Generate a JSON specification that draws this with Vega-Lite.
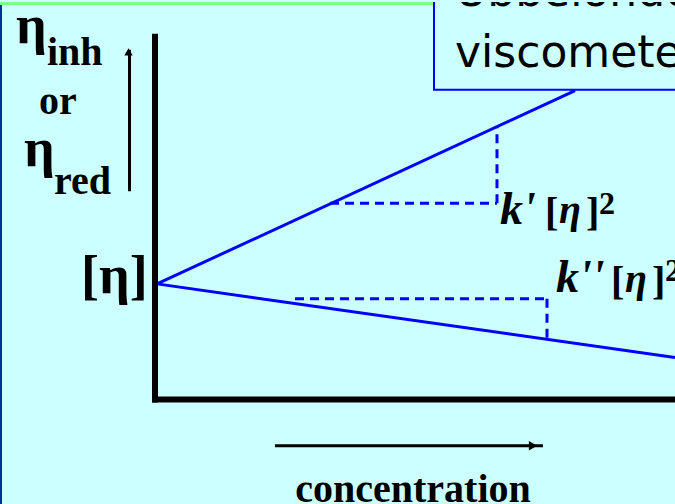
{
  "$schema": "https://vega.github.io/schema/vega-lite/v6.json",
  "width": 675,
  "height": 504,
  "autosize": {"type": "fit", "contains": "padding"},
  "padding": 0,
  "background": "#ccffff",
  "config": {"view": {"stroke": null}},
  "encoding": {
    "x": {"field": "x", "type": "quantitative", "scale": {"domain": [0, 675], "nice": false, "zero": false}, "axis": null},
    "y": {"field": "y", "type": "quantitative", "scale": {"domain": [0, 504], "reverse": true, "nice": false, "zero": false}, "axis": null}
  },
  "layer": [
    {
      "data": {"values": [{"part": "top band", "x": 0, "x2": 434, "y": 0, "y2": 3}]},
      "mark": {"type": "rect", "color": "#80ff80"},
      "encoding": {"x2": {"field": "x2"}, "y2": {"field": "y2"}}
    },
    {
      "data": {"values": [{"part": "left edge", "x": 0, "x2": 2, "y": 3, "y2": 504}]},
      "mark": {"type": "rect", "color": "#003399"},
      "encoding": {"x2": {"field": "x2"}, "y2": {"field": "y2"}}
    },
    {
      "data": {"values": [
        {"series": "inherent (upper)", "x": 157, "y": 283, "x2": 575, "y2": 89},
        {"series": "reduced (lower)", "x": 157, "y": 283, "x2": 675, "y2": 357}
      ]},
      "mark": {"type": "rule", "color": "#0000ff", "strokeWidth": 3, "clip": true},
      "encoding": {"x2": {"field": "x2"}, "y2": {"field": "y2"}}
    },
    {
      "data": {"values": [
        {"leg": "upper run", "x": 330, "y": 202, "x2": 497, "y2": 202},
        {"leg": "upper rise", "x": 497, "y": 202, "x2": 497, "y2": 125},
        {"leg": "lower run", "x": 295, "y": 298, "x2": 547, "y2": 298},
        {"leg": "lower drop", "x": 547, "y": 298, "x2": 547, "y2": 338}
      ]},
      "mark": {"type": "rule", "color": "#0000ff", "strokeWidth": 3, "strokeDash": [9, 6]},
      "encoding": {"x2": {"field": "x2"}, "y2": {"field": "y2"}}
    },
    {
      "data": {"values": [{"part": "caption box", "x": 434, "x2": 700, "y": -20, "y2": 88}]},
      "mark": {"type": "rect", "fill": "#ccffff", "stroke": "#0000ff", "strokeWidth": 2, "clip": true},
      "encoding": {"x2": {"field": "x2"}, "y2": {"field": "y2"}}
    },
    {
      "data": {"values": [
        {"t": "Ubbelohde", "x": 455, "y": 4},
        {"t": "viscometer", "x": 455, "y": 65}
      ]},
      "mark": {"type": "text", "font": "DejaVu Sans", "fontSize": 44, "align": "left", "baseline": "alphabetic", "color": "#000000", "clip": true},
      "encoding": {"text": {"field": "t"}}
    },
    {
      "data": {"values": [
        {"axis": "vertical", "x": 155, "y": 32, "x2": 155, "y2": 402},
        {"axis": "horizontal", "x": 152, "y": 399, "x2": 675, "y2": 399}
      ]},
      "mark": {"type": "rule", "color": "#000000", "strokeWidth": 6, "clip": true},
      "encoding": {"x2": {"field": "x2"}, "y2": {"field": "y2"}}
    },
    {
      "data": {"values": [
        {"arrow": "up", "x": 129.5, "y": 48, "x2": 129.5, "y2": 190},
        {"arrow": "right", "x": 275, "y": 445.5, "x2": 543, "y2": 445.5}
      ]},
      "mark": {"type": "rule", "color": "#000000", "strokeWidth": 3},
      "encoding": {"x2": {"field": "x2"}, "y2": {"field": "y2"}}
    },
    {
      "data": {"values": [{"arrow": "up", "x": 128.5, "y": 50}]},
      "mark": {"type": "point", "shape": "triangle-up", "filled": true, "color": "#000000", "size": 70, "opacity": 1}
    },
    {
      "data": {"values": [{"arrow": "right", "x": 533, "y": 445.5}]},
      "mark": {"type": "point", "shape": "triangle-right", "filled": true, "color": "#000000", "size": 90, "opacity": 1}
    },
    {
      "data": {"values": [
        {"t": "η", "x": 16, "y": 41},
        {"t": "η", "x": 24, "y": 165},
        {"t": "[η]", "x": 81, "y": 292}
      ]},
      "mark": {"type": "text", "font": "Liberation Serif", "fontWeight": "bold", "fontSize": 54, "align": "left", "baseline": "alphabetic", "color": "#000000"},
      "encoding": {"text": {"field": "t"}}
    },
    {
      "data": {"values": [
        {"t": "inh", "x": 47, "y": 63},
        {"t": "or", "x": 39, "y": 112},
        {"t": "red", "x": 54, "y": 193}
      ]},
      "mark": {"type": "text", "font": "Liberation Serif", "fontWeight": "bold", "fontSize": 40, "align": "left", "baseline": "alphabetic", "color": "#000000"},
      "encoding": {"text": {"field": "t"}}
    },
    {
      "data": {"values": [
        {"t": "k'", "x": 500, "y": 223},
        {"t": "k''", "x": 556, "y": 291}
      ]},
      "mark": {"type": "text", "font": "Liberation Serif", "fontWeight": "bold", "fontStyle": "italic", "fontSize": 46, "align": "left", "baseline": "alphabetic", "color": "#000000"},
      "encoding": {"text": {"field": "t"}}
    },
    {
      "data": {"values": [
        {"t": "η", "x": 559, "y": 222},
        {"t": "η", "x": 625, "y": 291}
      ]},
      "mark": {"type": "text", "font": "Liberation Serif", "fontWeight": "bold", "fontStyle": "italic", "fontSize": 40, "align": "left", "baseline": "alphabetic", "color": "#000000"},
      "encoding": {"text": {"field": "t"}}
    },
    {
      "data": {"values": [
        {"t": "[", "x": 545, "y": 224},
        {"t": "]", "x": 586, "y": 224},
        {"t": "[", "x": 611, "y": 293},
        {"t": "]", "x": 652, "y": 293}
      ]},
      "mark": {"type": "text", "font": "Liberation Serif", "fontWeight": "bold", "fontSize": 40, "align": "left", "baseline": "alphabetic", "color": "#000000"},
      "encoding": {"text": {"field": "t"}}
    },
    {
      "data": {"values": [
        {"t": "2", "x": 599, "y": 213},
        {"t": "2", "x": 665, "y": 280}
      ]},
      "mark": {"type": "text", "font": "Liberation Serif", "fontWeight": "bold", "fontSize": 32, "align": "left", "baseline": "alphabetic", "color": "#000000", "clip": true},
      "encoding": {"text": {"field": "t"}}
    },
    {
      "data": {"values": [{"t": "concentration", "x": 413, "y": 502}]},
      "mark": {"type": "text", "font": "Liberation Serif", "fontWeight": "bold", "fontSize": 40, "align": "center", "baseline": "alphabetic", "color": "#000000", "clip": true},
      "encoding": {"text": {"field": "t"}}
    }
  ]
}
